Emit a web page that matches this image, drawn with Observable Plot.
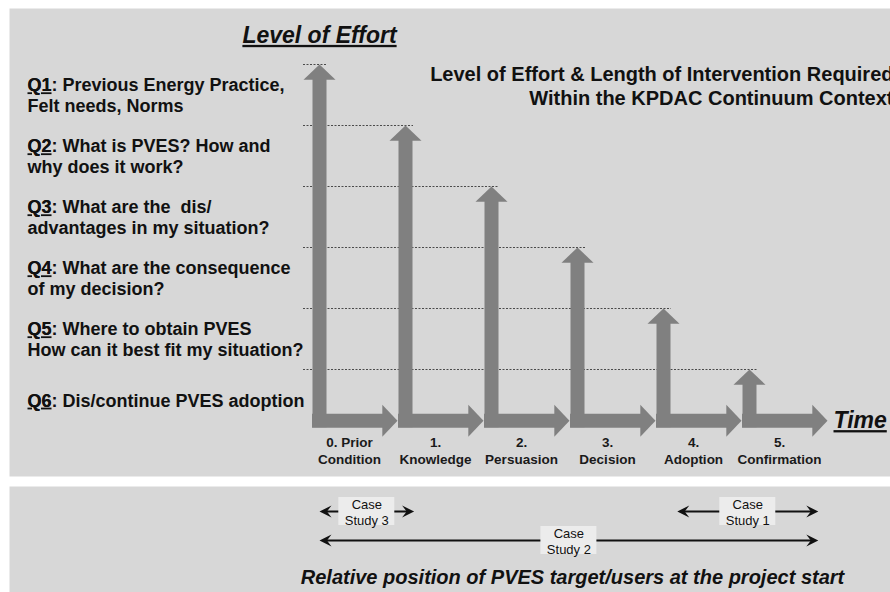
<!DOCTYPE html>
<html>
<head>
<meta charset="utf-8">
<script src="https://cdn.jsdelivr.net/npm/d3@7"></script>
<script src="https://cdn.jsdelivr.net/npm/@observablehq/plot@0.6"></script>
<style>
  body { margin: 0; background: #fff; overflow: hidden; font-family: "Liberation Sans", Arial, sans-serif; }
  #wrap { position: relative; width: 890px; height: 592px; }
  #topPlot, #botPlot { position: absolute; left: 0; }
  #topPlot { top: 0; }
  #botPlot { top: 478px; }
</style>
</head>
<body>
<div id="wrap"><div id="topPlot"></div><div id="botPlot"></div></div>
<script>
// ---- data ----
const stageLabels = ["0. Prior\nCondition", "1.\nKnowledge", "2.\nPersuasion", "3.\nDecision", "4.\nAdoption", "5.\nConfirmation"];
const effortLevels = [6, 5, 4, 3, 2, 1];
const baselineLevel = 0.16;
const questions = [
  "Q1: Previous Energy Practice,\nFelt needs, Norms",
  "Q2: What is PVES? How and\nwhy does it work?",
  "Q3: What are the  dis/\nadvantages in my situation?",
  "Q4: What are the consequence\nof my decision?",
  "Q5: Where to obtain PVES\nHow can it best fit my situation?",
  "Q6: Dis/continue PVES adoption"
];
const questionLevels = [5.5, 4.5, 3.5, 2.5, 1.5, 0.5];
const caseLabels = ["Case\nStudy 3", "Case\nStudy 2", "Case\nStudy 1"];
const caseStart = [0, 0, 4.16];
const caseEnd = [1.1, 5.8, 5.8];
const caseRow = [1, 2, 1];
const mainTitle = "Level of Effort";
const sideTitle = "Level of Effort & Length of Intervention Required\nWithin the KPDAC Continuum Context";
const timeLabel = "Time";
const caption = "Relative position of PVES target/users at the project start";

// ---- tables ----
const stages = stageLabels.map((label, i) => ({i, label, effort: effortLevels[i], next: i + 1}));
const qTags = questions.map(q => q.split(":")[0]);
const qs = questions.map((q, i) => ({q, level: questionLevels[i], tag: qTags[i] + (q.includes("\n") ? "\n " : "")}));
const cases = caseLabels.map((label, i) => ({label, start: caseStart[i], end: caseEnd[i], row: caseRow[i], mid: (caseStart[i] + caseEnd[i]) / 2}));

const font = "Liberation Sans, Arial, sans-serif";
const gray = "#808080";
const xScale = {domain: [0, 6], range: [319, 835], axis: null};

// custom symbols: tip at origin, body below
const head = {draw(ctx, size) { const r = Math.sqrt(size / Math.PI); ctx.moveTo(0, 0); ctx.lineTo(r, r * 0.95); ctx.lineTo(-r, r * 0.95); ctx.closePath(); }};
const barb = {draw(ctx, size) { const r = Math.sqrt(size / Math.PI); ctx.moveTo(0, 0); ctx.lineTo(r * 0.5, r); ctx.lineTo(0, r * 0.62); ctx.lineTo(-r * 0.5, r); ctx.closePath(); }};

const topChart = Plot.plot({
  width: 890, height: 478, margin: 0,
  x: xScale,
  y: {domain: [0, 6], range: [430, 64], axis: null},
  style: {background: "transparent", overflow: "visible", fontFamily: font},
  marks: [
    Plot.frame({fill: "#d7d7d7", stroke: "none", insetLeft: 9, insetTop: 8, insetBottom: 2}),
    Plot.ruleY(stages, {y: "effort", x1: 0, x2: "i", insetLeft: -16, insetRight: -8, stroke: "#4a4a4a", strokeWidth: 1, strokeDasharray: "2,1.5"}),
    Plot.ruleX(stages, {x: "i", y1: "effort", y2: baselineLevel, insetTop: 14, insetBottom: -7, stroke: gray, strokeWidth: 14}),
    Plot.ruleY(stages, {y: baselineLevel, x1: "i", x2: "next", insetLeft: -7, insetRight: 22, stroke: gray, strokeWidth: 14}),
    Plot.dot(stages, {x: "i", y: "effort", symbol: head, r: 16, fill: gray, stroke: "none"}),
    Plot.dot(stages, {x: "next", y: baselineLevel, symbol: head, r: 16, rotate: 90, dx: -8, fill: gray, stroke: "none"}),
    Plot.text(stages, {x: "i", text: "label", frameAnchor: "bottom", dy: -28.5, dx: 30, lineAnchor: "middle", fontSize: 13.5, fontWeight: "bold", lineHeight: 1.26, fill: "#1a1a1a"}),
    Plot.text(qs, {y: "level", text: "q", frameAnchor: "left", dx: 27, textAnchor: "start", lineAnchor: "middle", fontSize: 18, fontWeight: "bold", lineHeight: 1.15, fill: "#111"}),
    Plot.text(qs, {y: "level", text: "tag", frameAnchor: "left", dx: 27, textAnchor: "start", lineAnchor: "middle", fontSize: 18, fontWeight: "bold", lineHeight: 1.15, fill: "#111"}),
    Plot.text([mainTitle], {x: 0, frameAnchor: "top", dy: 35, lineAnchor: "middle", fontSize: 23, fontWeight: "bold", fontStyle: "italic", fill: "#111"}),
    Plot.text([sideTitle], {frameAnchor: "top-right", dx: 3, dy: 85, textAnchor: "end", lineAnchor: "middle", fontSize: 20, fontWeight: "bold", lineHeight: 1.2, fill: "#111"}),
    Plot.text([timeLabel], {x: 6, y: baselineLevel, dx: -2, textAnchor: "start", lineAnchor: "middle", fontSize: 23, fontWeight: "bold", fontStyle: "italic", fill: "#111"})
  ]
});
document.getElementById("topPlot").appendChild(topChart);

// underline the title, "Time" and the question tags (as in the original)
const underlineSet = new Set([mainTitle, timeLabel, ...qTags]);
d3.select(topChart).selectAll("text, tspan")
  .filter(function () { return underlineSet.has(this.textContent); })
  .attr("text-decoration", "underline")
  .style("text-decoration", "underline")
  .style("text-decoration-color", "#8a8a8a");

const botChart = Plot.plot({
  width: 890, height: 114, margin: 0,
  x: xScale,
  y: {domain: [1, 2], range: [33, 62], axis: null},
  style: {background: "transparent", overflow: "visible", fontFamily: font},
  marks: [
    Plot.frame({fill: "#d7d7d7", stroke: "none", insetLeft: 9, insetTop: 8}),
    Plot.ruleY(cases, {y: "row", x1: "start", x2: "end", insetLeft: 4, insetRight: 4, stroke: "#111", strokeWidth: 1.8}),
    Plot.dot(cases, {x: "start", y: "row", symbol: barb, r: 12, rotate: -90, fill: "#111", stroke: "none"}),
    Plot.dot(cases, {x: "end", y: "row", symbol: barb, r: 12, rotate: 90, fill: "#111", stroke: "none"}),
    Plot.rect(cases, {x1: "mid", x2: "mid", y1: "row", y2: "row", insetLeft: -28, insetRight: -28, insetTop: -14, insetBottom: -14, fill: "#ececec"}),
    Plot.text(cases, {x: "mid", y: "row", text: "label", lineAnchor: "middle", fontSize: 13, lineHeight: 1.23, fill: "#111"}),
    Plot.text([caption], {frameAnchor: "bottom-left", dx: 572, dy: -15, textAnchor: "middle", lineAnchor: "middle", fontSize: 20, fontWeight: "bold", fontStyle: "italic", fill: "#111"})
  ]
});
document.getElementById("botPlot").appendChild(botChart);
</script>
</body>
</html>
